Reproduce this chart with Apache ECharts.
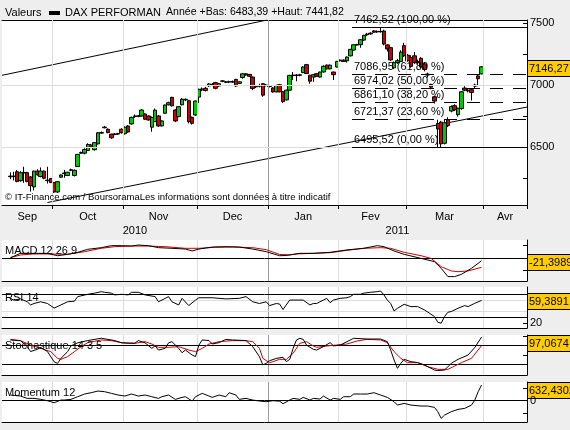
<!DOCTYPE html>
<html><head><meta charset="utf-8">
<script src="https://cdn.jsdelivr.net/npm/echarts@6/dist/echarts.min.js"></script>
<style>html,body{margin:0;padding:0;background:#EEEEEE}#c{width:570px;height:430px}</style>
</head><body><div id="c"></div><script>
// ---------- calendar (trading days shown on the axis) ----------
const sepDays=[10,13,14,15,16,17,20,21,22,23,24,27,28,29,30];
const octDays=[1,4,5,6,7,8,11,12,13,14,15,18,19,20,21,22,25,26,27,28,29];
const novDays=[1,2,3,4,5,8,9,10,11,12,15,16,17,18,19,22,23,24,25,26,29,30];
const decDays=[1,2,3,6,7,8,9,10,13,14,15,16,17,20,21,22,23,27,28,29,30];
const janDays=[3,4,5,6,7,10,11,12,13,14,17,18,19,20,21,24,25,26,27,28,31];
const febDays=[1,2,3,4,7,8,9,10,11,14,15,16,17,18,21,22,23,24,25,28];
const marDays=[1,2,3,4,7,8,9,10,11,14,15,16,17,18,21,22,23,24,25,28,29,30,31];
const aprDays=[1,4,5,6,7,8,11,12,13,14,15,18,19];
const monthList=[['2010','09',sepDays],['2010','10',octDays],['2010','11',novDays],['2010','12',decDays],
 ['2011','01',janDays],['2011','02',febDays],['2011','03',marDays],['2011','04',aprDays]];
const monthNames={'09':'Sep','10':'Oct','11':'Nov','12':'Dec','01':'Jan','02':'Fev','03':'Mar','04':'Avr'};
const firstDataDate='2010-09-14';

// ---------- DAX candles (from 14 Sep 2010) ----------
const open=[6260,6265,6300,6228,6290,6293,6258,6178,6305,6262,6305,6232,6245,6212,6137,6256,6285,6270,6312,6270,
6342,6450,6450,6472,6516,6478,6525,6612,6655,6643,6603,6600,6604,6643,6607,6669,6686,6745,6750,6750,
6766,6750,6660,6705,6750,6670,6772,6840,6900,6798,6745,6840,6880,6873,6739,6758,6902,6960,6973,6993,
7005,7019,6992,7030,7022,7024,7026,7045,7013,7060,7090,7085,7064,6985,6990,7010,6995,6988,6976,6945,
7002,6946,6880,6958,7075,7080,7078,7100,7164,7078,7064,7091,7064,7105,7160,7130,7104,7145,7195,7200,
7195,7235,7282,7322,7325,7362,7405,7412,7436,7428,7432,7435,7323,7301,7138,7180,7190,7317,7240,7220,
7235,7180,7215,7170,7088,7005,6905,6690,6700,6530,6720,6790,6833,6760,6810,6975,6952,6962,6990,7073,7090];
const close=[6265,6262,6222,6292,6295,6222,6188,6305,6275,6305,6248,6228,6214,6137,6220,6274,6290,6296,6316,6312,
6440,6456,6480,6520,6498,6535,6614,6616,6660,6616,6574,6605,6608,6615,6659,6621,6738,6750,6748,6798,
6724,6718,6738,6797,6670,6710,6838,6857,6832,6710,6825,6885,6884,6704,6691,6870,6965,6968,6955,7008,
7000,6973,7010,7033,7025,7026,7024,6992,7025,7090,7080,7070,6972,6990,6995,6918,7000,6992,6944,6996,
6945,6866,6958,7077,7080,7076,7082,7145,7092,7031,7083,7070,7104,7150,7130,7160,7083,7190,7200,7190,
7225,7287,7324,7326,7365,7400,7410,7418,7426,7432,7429,7330,7290,7202,7180,7195,7265,7236,7195,7150,
7180,7190,7145,7125,7080,6982,6870,6645,6525,6695,6672,6825,6800,6812,6945,6958,6958,6940,7000,7050,7146.27];
const low=[6240,6230,6215,6220,6210,6215,6140,6150,6270,6255,6240,6205,6208,6130,6130,6250,6252,6265,6305,6262,
6338,6445,6440,6468,6490,6470,6520,6608,6650,6610,6566,6595,6598,6608,6600,6615,6680,6735,6740,6745,
6718,6712,6623,6700,6662,6665,6768,6835,6826,6700,6740,6835,6870,6690,6680,6750,6855,6950,6948,6985,
6990,6965,6985,7022,7015,7015,7018,6985,7008,7050,7075,7065,6958,6975,6980,6905,6988,6980,6938,6940,
6940,6855,6875,6955,7040,7030,7070,7095,7088,7010,7025,7065,7060,7100,7125,7125,7040,7140,7190,7185,
7180,7230,7278,7316,7300,7355,7395,7405,7420,7420,7422,7320,7270,7195,7130,7170,7185,7225,7188,7140,
7170,7165,7135,7110,7060,6965,6850,6495.52,6500,6520,6660,6780,6790,6745,6800,6950,6940,6875,6975,6990,7085];
const high=[6295,6300,6314,6305,6340,6300,6265,6310,6320,6335,6310,6340,6250,6218,6225,6280,6315,6300,6325,6318,
6445,6462,6490,6530,6525,6540,6620,6625,6670,6650,6608,6612,6615,6650,6665,6676,6745,6762,6758,6805,
6772,6755,6745,6810,6758,6715,6842,6865,6905,6805,6830,6895,6892,6880,6745,6875,6970,6980,6985,7015,
7015,7025,7015,7040,7032,7035,7036,7050,7030,7097,7095,7090,7068,6998,7010,7015,7008,7000,6982,7002,
7008,6952,6962,7082,7105,7088,7090,7150,7170,7082,7088,7096,7108,7160,7165,7165,7108,7195,7206,7206,
7230,7292,7328,7332,7370,7405,7420,7425,7442,7440,7462.52,7445,7330,7305,7190,7210,7280,7340,7250,7240,
7265,7205,7225,7185,7100,7010,6910,6720,6710,6720,6740,6835,6845,6818,6950,6990,6975,6975,7010,7080,7152];

// ---------- overlays ----------
const priceTicks=[6250,6500,6750,7000,7250,7500];
const priceLabels=[6500,7000,7500];
const priceGrid=[6500,7000];
const fibLevels=[7462.52,7086.95,6974.02,6861.10,6721.37,6495.52];
const fibPct=[100,61.8,50,38.2,23.6,0];
const fibStartDate='2011-02-07';
// trend channel: [dataIndex, price] pairs (dataIndex counted from 14 Sep 2010)
const trendUpper=[[-2.5,7078],[76.3,7524]];
const trendLower=[[11,6052],[153.5,6822]];

// ---------- indicators: [dataIndex, value] ----------
const macd=[[0,2],[3,37],[7,37],[11,37],[13,24],[14,18],[17,29],[20,45],[23,69],[27,82],[30,98],[33,98],[36,95],[38,103],[41,98],[44,82],[48,77],[52,71],[54,56],[56,71],[60,87],[64,90],[68,87],[72,71],[76,50],[80,18],[82,20],[84,28],[86,37],[90,37],[95,45],[100,64],[105,77],[109,98],[111,90],[114,56],[117,29],[122,-3],[126,-29],[128,-82],[130,-148],[132,-148],[134,-130],[137,-82],[139,-42],[140,-21.3989]];
const macdSignal=[[0,2],[3,24],[7,32],[12,32],[17,29],[22,50],[27,77],[31,90],[36,95],[41,95],[46,90],[52,77],[56,77],[61,85],[66,87],[72,82],[76,66],[80,28],[83,25],[85,32],[90,37],[95,42],[100,61],[105,77],[110,82],[113,77],[117,45],[122,18],[125,-3],[128,-69],[131,-103],[133,-109],[136,-103],[140,-74]];
const rsi=[[0,63],[1,60],[3,62],[5,57],[6,51.5],[7,54],[9,57],[11,54],[13,46],[15,51.5],[17,57],[19,58],[20,66],[23,70],[25,72],[27,74.6],[28,73.5],[30,72],[31,69],[33,70],[35,69],[36,73.5],[38,73.5],[40,69],[43,66],[44,57],[46,63],[47,66],[48,57],[50,51.5],[51,63],[53,50.4],[55,60],[56,64],[60,64],[64,62],[68,63],[70,66],[72,57],[74,54],[76,57],[77,50.4],[79,54],[80,53],[81,43.5],[83,60],[84,60],[87,60],[89,51.5],[90,54],[91,54],[93,60],[94,63],[95,55.5],[96,60],[98,63],[100,64],[101,66],[102,70],[104,70],[105,72],[107,73.5],[109,74.6],[110,75.7],[111,69],[112,60],[113,54],[114,41],[115,45.7],[117,52.6],[119,48.6],[121,48.6],[123,43],[126,31.3],[127,21.4],[128,19.7],[129,31.3],[130,38.8],[131,40],[133,45.7],[135,50.4],[136,48.6],[138,54.4],[140,59.3891]];
const stochK=[[0,89.5],[3,87.7],[5,72],[6,59],[8,65],[9,70],[11,59],[13,32],[14,28],[15,41],[17,59],[18,74],[20,82],[23,88],[27,94],[29,91],[31,88],[33,82],[35,81],[37,81],[38,88],[40,82],[42,67.5],[43,74],[44,63],[46,67.5],[47,82],[48,85],[50,67.5],[51,56],[52,63],[54,50],[55,45.6],[56,76],[57,89.5],[59,88],[60,79],[62,82.5],[64,91],[66,89.5],[70,88],[72,72],[74,45.6],[75,24],[76,28],[77,35],[79,41],[81,44],[82,32.5],[83,38.6],[84,67.5],[85,89.5],[86,94],[87,91],[88,76],[90,65],[91,63],[93,72],[95,82.5],[96,74],[98,76],[100,85],[102,94],[106,92],[110,92],[112,85],[113,63],[114,37],[115,15],[116,28],[117,38.6],[119,32.5],[121,30],[123,24],[126,10.5],[127,9],[129,10.5],[131,28],[133,38.6],[136,50],[138,70],[140,97.0674]];
const stochD=[[0,91.2],[3,87.7],[6,76.3],[9,67.5],[12,58.8],[14,41.2],[15,38.6],[17,45.6],[19,58.8],[21,71.9],[23,82.5],[27,89.5],[30,87.7],[33,82.5],[37,80.7],[40,85.1],[42,78.9],[44,70.2],[47,70.2],[50,71.9],[53,63.2],[55,58.8],[57,67.5],[59,78.9],[62,85.1],[66,87.7],[70,87.7],[72,85.1],[74,67.5],[75,41.2],[77,29.8],[78,32.5],[80,38.6],[82,38.6],[84,54.4],[86,80.7],[88,85.1],[90,73.7],[91,70.2],[94,73.7],[97,76.3],[100,78.9],[103,86.8],[106,91.2],[110,89.5],[112,82.5],[114,58.8],[116,41.2],[118,29.8],[121,29.8],[124,19.3],[127,12.3],[130,12.3],[132,21],[134,29.8],[137,41.2],[140,74.6]];
const momentum=[[0,229],[3,188],[5,94],[7,94],[9,54],[11,0],[12,-40],[13,-81],[15,27],[16,27],[18,54],[20,161],[22,269],[24,323],[26,390],[28,363],[30,296],[32,229],[34,188],[36,269],[37,229],[38,188],[40,229],[42,161],[44,94],[45,161],[47,229],[49,54],[51,134],[52,161],[54,-13],[55,161],[57,296],[59,188],[60,134],[62,229],[64,161],[65,323],[67,229],[68,54],[70,94],[72,27],[74,-13],[76,-40],[78,0],[80,-20],[81,-120],[83,27],[84,94],[86,54],[87,134],[89,27],[90,94],[92,67],[93,188],[95,27],[96,94],[98,54],[99,161],[101,161],[102,269],[104,269],[106,269],[108,323],[110,229],[112,134],[114,-40],[115,-175],[117,-107],[119,-175],[122,-215],[124,-215],[126,-269],[127,-443],[128,-712],[129,-578],[131,-443],[133,-349],[135,-309],[137,-175],[138,27],[139,363],[140,632.4302]];

// ---------- build tables ----------
const dates=[];
monthList.forEach(([y,m,days])=>days.forEach(d=>dates.push(y+'-'+m+'-'+String(d).padStart(2,'0'))));
const off=dates.indexOf(firstDataDate);
const N=dates.length;
const candles=dates.map((d,c)=>{const i=c-off;return (i>=0&&i<open.length)?[open[i],close[i],low[i],high[i]]:['-','-','-','-'];});
const monthStarts=[],labelIdx={},yearIdx={};
(function(){let s=0;for(let c=1;c<=N;c++){if(c===N||dates[c].slice(0,7)!==dates[c-1].slice(0,7)){labelIdx[Math.floor((s+c-1)/2)]=monthNames[dates[s].slice(5,7)];if(c<N)monthStarts.push(c);s=c;}}
 s=0;for(let c=1;c<=N;c++){if(c===N||dates[c].slice(0,4)!==dates[c-1].slice(0,4)){yearIdx[Math.floor((s+c-1)/2)]=dates[s].slice(0,4);s=c;}}})();
const yearStart=dates.findIndex(d=>d.startsWith('2011'));
const shift=a=>a.map(p=>[p[0]+off,p[1]]);
const fmt=(v,d)=>v.toFixed(d).replace('.',',');

const FONT='Liberation Sans';
const L=2,W=525,XMIN=-0.5,XMAX=N-0.5;
const panels=[{top:20,h:185},{top:240,h:41},{top:287,h:41},{top:335,h:40},{top:382,h:40}];
const yr=[[6032,7524],[-183,143],[11.4,82.7],[-2.6,102.6],[-858,754]];
const ticks=[priceTicks,[-100,100],[20,40,60],[50,100],[-500,500]];
const tlabels=[priceLabels,[],[20],[],[0]];

function vLines(){return [...monthStarts.map(c=>({xAxis:c-0.5,lineStyle:{color:'#DCDCDC',width:1,type:'solid'}})),
  {xAxis:yearStart-0.5,lineStyle:{color:'#9A9A9A',width:1,type:'solid'}}];}
function hLine(v,color){return {yAxis:v,lineStyle:{color:color,width:1,type:'solid'}};}
function frame(k,extra){return {type:'line',xAxisIndex:2+k,yAxisIndex:k,data:[],silent:true,z:1,
  markLine:{silent:true,symbol:'none',animation:false,label:{show:false},data:[...vLines(),...extra]}};}
function ind(k,data,color,z){return {type:'line',xAxisIndex:2+k,yAxisIndex:k,data:shift(data),symbol:'none',silent:true,z:z||5,
  lineStyle:{color:color,width:1},animation:false};}

const xAxis=[
 {type:'category',gridIndex:0,data:dates,boundaryGap:true,axisLine:{onZero:false,lineStyle:{color:'#000',width:1}},
  axisTick:{show:true,length:4,lineStyle:{color:'#000'},interval:(i)=>monthStarts.includes(i)},
  axisLabel:{interval:(i)=>labelIdx[i]!==undefined,formatter:(v,i)=>labelIdx[i]||'',color:'#000',fontSize:11,fontFamily:FONT,margin:6},
  splitLine:{show:false}},
 {type:'category',gridIndex:0,data:dates,position:'bottom',offset:14,axisLine:{show:false,onZero:false},axisTick:{show:false},
  axisLabel:{interval:(i)=>yearIdx[i]!==undefined,formatter:(v,i)=>yearIdx[i]||'',color:'#000',fontSize:11,fontFamily:FONT,margin:6},splitLine:{show:false}}
];
for(let k=0;k<5;k++){
 xAxis.push({type:'value',gridIndex:k,min:XMIN,max:XMAX,position:k===0?'top':'bottom',
  axisLine:{show:true,onZero:false,lineStyle:{color:'#000',width:1}},axisTick:{show:false},axisLabel:{show:false},splitLine:{show:false}});
}
const yAxis=panels.map((p,k)=>({type:'value',gridIndex:k,position:'right',min:yr[k][0],max:yr[k][1],
 axisLine:{show:true,onZero:false,lineStyle:{color:'#000',width:1}},
 axisTick:{show:true,inside:true,length:4,lineStyle:{color:'#000'},customValues:ticks[k]},
 axisLabel:{show:true,customValues:tlabels[k],color:'#000',fontSize:11,fontFamily:FONT,margin:3,formatter:v=>String(v)},
 splitLine:{show:false}}));

const fibLines=fibLevels.map((v,j)=>[
 {coord:[dates.indexOf(fibStartDate)-0.5,v],lineStyle:{color:'#000',width:1,type:(j===0||j===fibLevels.length-1)?'solid':[13,10]},
  label:{show:true,position:'insideStartTop',distance:[2,2],formatter:fmt(v,2)+' ('+fmt(fibPct[j],2)+' %)',color:'#000',fontSize:11,fontFamily:FONT}},
 {coord:[XMAX,v]}]);

const series=[
 frame(0,priceGrid.map(v=>hLine(v,'#DCDCDC'))),
 frame(1,[hLine(0,'#000')]),
 frame(2,[hLine(60,'#DCDCDC'),hLine(40,'#DCDCDC'),hLine(70,'#000'),hLine(30,'#000')]),
 frame(3,[hLine(75,'#000'),hLine(25,'#000')]),
 frame(4,[hLine(0,'#000')]),
 {type:'line',xAxisIndex:2,yAxisIndex:0,data:shift(trendUpper),symbol:'none',silent:true,z:2,lineStyle:{color:'#000',width:1},animation:false},
 {type:'line',xAxisIndex:2,yAxisIndex:0,data:shift(trendLower),symbol:'none',silent:true,z:2,lineStyle:{color:'#000',width:1},animation:false},
 {type:'line',xAxisIndex:2,yAxisIndex:0,data:[],silent:true,z:2,markLine:{silent:true,symbol:'none',animation:false,data:fibLines}},
 {type:'candlestick',xAxisIndex:0,yAxisIndex:0,data:candles,barWidth:4,z:4,silent:true,animation:false,
  itemStyle:{color:'#00C800',color0:'#D00000',borderColor:'#000',borderColor0:'#000',borderWidth:1}},
 ind(1,macd,'#000',6),ind(1,macdSignal,'#D00000',5),
 ind(2,rsi,'#000'),
 ind(3,stochK,'#000',6),ind(3,stochD,'#D00000',5),
 ind(4,momentum,'#000')
];

const chart=echarts.init(document.getElementById('c'));
chart.setOption({animation:false,backgroundColor:'#EEEEEE',
 grid:panels.map(p=>({left:L,width:W,top:p.top,height:p.h,show:true,backgroundColor:'#FFFFFF',borderWidth:0})),
 xAxis:xAxis,yAxis:yAxis,series:series});

// value boxes and texts
const lastVals=[close[close.length-1],macd[macd.length-1][1],rsi[rsi.length-1][1],stochK[stochK.length-1][1],momentum[momentum.length-1][1]];
const boxDec=[2,4,4,4,4];
const titles=['','MACD 12 26 9','RSI 14','Stochastique 14 3 5','Momentum 12'];
const g=[];
g.push({type:'text',left:5,top:7,style:{text:'Valeurs',font:'11px '+FONT,fill:'#000'}});
g.push({type:'rect',shape:{x:49,y:11,width:11,height:4},style:{fill:'#000'}});
g.push({type:'text',left:65,top:7,style:{text:'DAX PERFORMAN',font:'11px '+FONT,fill:'#000'}});
g.push({type:'text',left:166,top:7,style:{text:'Année +Bas: 6483,39 +Haut: 7441,82',font:'10.6px '+FONT,fill:'#000'}});
g.push({type:'text',left:5,top:192,z:10,style:{text:'© IT-Finance.com / BoursoramaLes informations sont données à titre indicatif',font:'9.5px '+FONT,fill:'#000'}});
panels.forEach((p,k)=>{
 if(titles[k]) g.push({type:'text',left:5,top:p.top+5,z:10,style:{text:titles[k],font:'11px '+FONT,fill:'#000'}});
 let y=chart.convertToPixel({yAxisIndex:k},lastVals[k]);
 const bh=16; let top=y-bh/2+1;
 top=Math.max(p.top,Math.min(top,p.top+p.h-bh));
 g.push({type:'group',z:20,children:[
  {type:'rect',shape:{x:527.5,y:Math.round(top)+0.5,width:50,height:bh},style:{fill:'#FFCC00',stroke:'#000',lineWidth:1}},
  {type:'text',x:529,y:Math.round(top)+bh/2+1,style:{text:fmt(lastVals[k],boxDec[k]),font:'11px '+FONT,fill:'#000',verticalAlign:'middle'}}]});
});
chart.setOption({graphic:g});
</script></body></html>
